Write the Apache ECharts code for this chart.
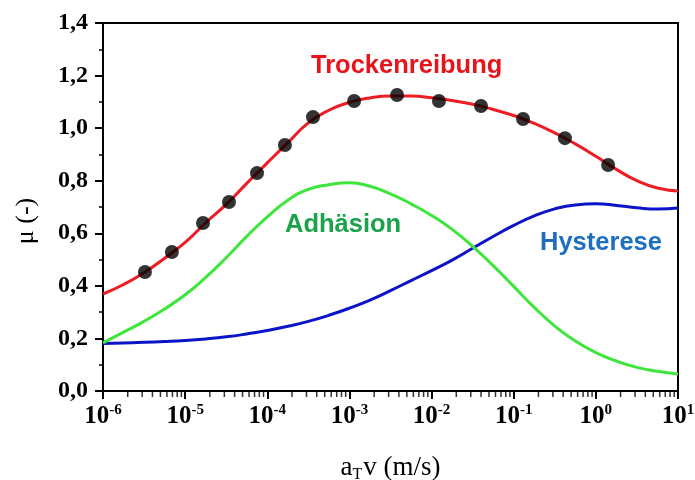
<!DOCTYPE html>
<html><head><meta charset="utf-8">
<script src="https://cdn.jsdelivr.net/npm/echarts@6/dist/echarts.min.js"></script>
<style>html,body{margin:0;padding:0;background:#fff}#c{width:695px;height:480px}</style>
</head><body><div id="c"></div>
<script>
// sliding speed a_T v (m/s), quarter-decade samples
const speedX = [1e-6, 1.78e-6, 3.16e-6, 5.62e-6, 1e-5, 1.78e-5, 3.16e-5, 5.62e-5, 1e-4, 1.78e-4, 3.16e-4, 5.62e-4, 1e-3, 1.78e-3, 3.16e-3, 5.62e-3, 1e-2, 1.78e-2, 3.16e-2, 5.62e-2, 0.1, 0.178, 0.316, 0.562, 1, 1.78, 3.16, 5.62, 10];
// Trockenreibung curve
const trockenY = [0.369, 0.405, 0.450, 0.505, 0.565, 0.640, 0.710, 0.790, 0.868, 0.945, 1.020, 1.068, 1.098, 1.115, 1.122, 1.122, 1.116, 1.105, 1.091, 1.071, 1.048, 1.018, 0.982, 0.940, 0.893, 0.843, 0.800, 0.772, 0.761];
// Adhäsion curve
const adhY = [0.183, 0.224, 0.265, 0.312, 0.366, 0.432, 0.507, 0.588, 0.662, 0.726, 0.767, 0.785, 0.792, 0.779, 0.750, 0.712, 0.668, 0.615, 0.550, 0.477, 0.398, 0.318, 0.247, 0.190, 0.146, 0.114, 0.090, 0.075, 0.065];
// Hysterese curve
const hystY = [0.181, 0.183, 0.185, 0.188, 0.192, 0.198, 0.206, 0.217, 0.230, 0.246, 0.265, 0.288, 0.315, 0.346, 0.382, 0.420, 0.458, 0.498, 0.543, 0.588, 0.630, 0.666, 0.693, 0.708, 0.712, 0.706, 0.697, 0.692, 0.696];
// measured points
const pointsX = [3.24e-6, 6.9e-6, 1.65e-5, 3.42e-5, 7.5e-5, 1.64e-4, 3.6e-4, 1.14e-3, 3.8e-3, 1.23e-2, 4.0e-2, 0.13, 0.42, 1.41];
const pointsY = [0.453, 0.529, 0.639, 0.719, 0.829, 0.936, 1.042, 1.103, 1.126, 1.103, 1.084, 1.035, 0.962, 0.860];
// axis ticks
const xMajor = [1e-6, 1e-5, 1e-4, 1e-3, 1e-2, 1e-1, 1, 10];
const xExp = ['-6', '-5', '-4', '-3', '-2', '-1', '0', '1'];
const xMinorMult = [2, 3, 4, 5, 6, 7, 8, 9];
const xMinor = [];
xMajor.slice(0, -1).forEach(d => xMinorMult.forEach(m => xMinor.push(+(d * m).toPrecision(3))));

const zip = (xs, ys) => xs.map((x, i) => [x, ys[i]]);
const serif = 'Liberation Serif';
const sans = 'Liberation Sans';

const chart = echarts.init(document.getElementById('c'));
chart.setOption({
  animation: false,
  grid: { left: 103, right: 17, top: 23, bottom: 89, show: true, borderColor: '#000', borderWidth: 2, containLabel: false, outerBoundsMode: 'none' },
  xAxis: {
    type: 'log', logBase: 10, min: 1e-6, max: 10,
    axisLine: { show: true, lineStyle: { color: '#000', width: 2 } },
    axisTick: { show: true, length: 8, lineStyle: { color: '#000', width: 2 } },
    minorTick: { show: false },
    splitLine: { show: false },
    axisLabel: {
      customValues: xMajor, margin: 12,
      formatter: v => { const i = xMajor.findIndex(m => Math.abs(Math.log10(m) - Math.log10(v)) < 1e-6); return '{b|10}{s|' + (i >= 0 ? xExp[i] : '') + '}'; },
      rich: {
        b: { fontFamily: serif, fontWeight: 'bold', fontSize: 25, color: '#000' },
        s: { fontFamily: serif, fontWeight: 'bold', fontSize: 15, color: '#000', padding: [0, 0, 12, 0] }
      }
    },
    name: '{a|a}{t|T}{a|v (m/s)}', nameLocation: 'middle', nameGap: 62,
    nameTextStyle: { rich: {
      a: { fontFamily: serif, fontSize: 27, color: '#000' },
      t: { fontFamily: serif, fontSize: 16, color: '#000', padding: [14, 1, 0, 0] }
    } }
  },
  yAxis: {
    type: 'value', min: 0, max: 1.4, interval: 0.2,
    axisLine: { show: true, lineStyle: { color: '#000', width: 2 } },
    axisTick: { show: true, length: 8, lineStyle: { color: '#000', width: 2 } },
    minorTick: { show: true, splitNumber: 2, length: 4, lineStyle: { color: '#000', width: 1.5 } },
    splitLine: { show: false },
    axisLabel: { margin: 15, fontFamily: serif, fontWeight: 'bold', fontSize: 24, color: '#000',
      formatter: v => v.toFixed(1).replace('.', ',') },
    name: 'μ (-)', nameLocation: 'middle', nameGap: 64,
    nameTextStyle: { fontFamily: serif, fontSize: 26, color: '#000', padding: [0, 28, 0, 0] }
  },
  series: [
    { type: 'line', data: zip(speedX, hystY), smooth: 0.5, showSymbol: false, lineStyle: { color: '#0c14c8', width: 3 }, z: 2 },
    { type: 'line', data: zip(speedX, adhY), smooth: 0.5, showSymbol: false, lineStyle: { color: '#3ee63c', width: 3 }, z: 2 },
    { type: 'line', data: zip(speedX, trockenY), smooth: 0.5, showSymbol: false, lineStyle: { color: '#ee1c24', width: 3 }, z: 3 },
    { type: 'scatter', data: zip(pointsX, pointsY), symbol: 'circle', symbolSize: 14, itemStyle: { color: '#000' }, z: 4 },
    // minor ticks on the log x axis (outward)
    { type: 'scatter', data: xMinor.map(v => [v, 0]), symbol: 'rect', symbolSize: [1.5, 5], symbolOffset: [0, 3.5],
      itemStyle: { color: '#000' }, clip: false, silent: true, z: 5 }
  ],
  graphic: [
    { type: 'text', left: 311, top: 53, style: { text: 'Trockenreibung', fontFamily: sans, fontWeight: 'bold', fontSize: 25.5, fill: '#e8141b' } },
    { type: 'text', left: 285, top: 212, style: { text: 'Adhäsion', fontFamily: sans, fontWeight: 'bold', fontSize: 25.5, fill: '#1aa34a' } },
    { type: 'text', left: 540, top: 230, style: { text: 'Hysterese', fontFamily: sans, fontWeight: 'bold', fontSize: 25.5, fill: '#1f6fc0' } }
  ]
});
</script></body></html>
